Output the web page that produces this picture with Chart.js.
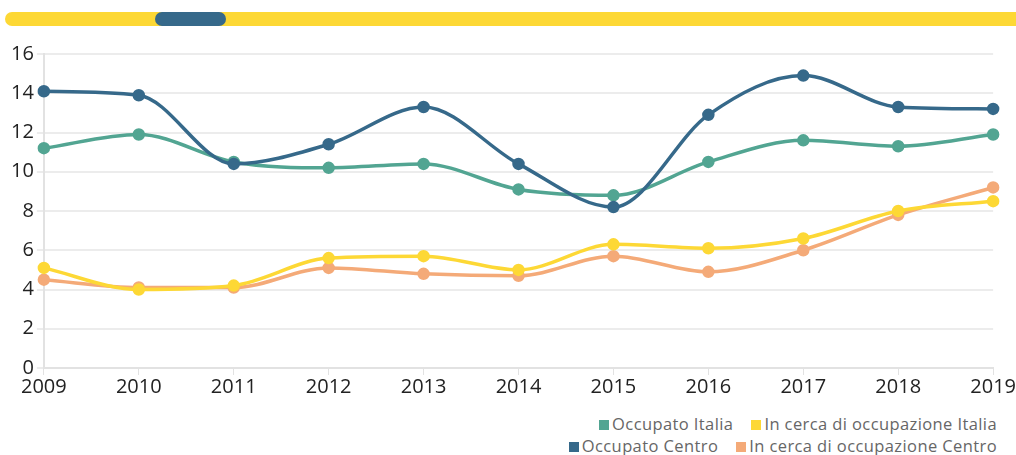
<!DOCTYPE html>
<html>
<head>
<meta charset="utf-8">
<script src="https://cdn.jsdelivr.net/npm/chart.js@4"></script>
<style>
  body { margin: 0; background: #fff; width: 1016px; height: 455px; overflow: hidden; position: relative; font-family: "Open Sans", sans-serif; }
  .track { position: absolute; left: 5px; top: 12px; width: 1020px; height: 14px; background: #fdd835; border-radius: 7px; }
  .thumb { position: absolute; left: 155px; top: 12px; width: 71px; height: 14px; background: #36698a; border-radius: 7px; }
  .wrap { position: absolute; left: 0; top: 36px; width: 1016px; height: 363px; }
  #legend { position: absolute; right: 19px; top: 413px; width: 640px; text-align: right; font-size: 16.5px; letter-spacing: 0.4px; color: #666; line-height: 22px; }
  #legend span.item { margin-left: 18px; white-space: nowrap; }
  #legend i { display: inline-block; width: 10px; height: 10px; margin-right: 3px; vertical-align: 0px; }
</style>
</head>
<body>
<div class="track"></div>
<div class="thumb"></div>
<div class="wrap"><canvas id="lineChart"></canvas></div>
<div id="legend"></div>
<script>
const years = ['2009', '2010', '2011', '2012', '2013', '2014', '2015', '2016', '2017', '2018', '2019'];

const occupatoItalia = [11.2, 11.9, 10.5, 10.2, 10.4, 9.1, 8.8, 10.5, 11.6, 11.3, 11.9];
const cercaItalia    = [5.1, 4.0, 4.2, 5.6, 5.7, 5.0, 6.3, 6.1, 6.6, 8.0, 8.5];
const occupatoCentro = [14.1, 13.9, 10.4, 11.4, 13.3, 10.4, 8.2, 12.9, 14.9, 13.3, 13.2];
const cercaCentro    = [4.5, 4.1, 4.1, 5.1, 4.8, 4.7, 5.7, 4.9, 6.0, 7.8, 9.2];

const GREEN  = '#52a592';
const YELLOW = '#fdd835';
const BLUE   = '#36698a';
const ORANGE = '#f4aa78';
const GRID   = '#ececec';
const TEXT   = '#222';

Chart.defaults.font.family = "'Open Sans', sans-serif";

function series(label, data, color, order) {
    return {
        label: label,
        data: data,
        borderColor: color,
        backgroundColor: color,
        pointBackgroundColor: color,
        pointBorderColor: color,
        borderWidth: 3.5,
        pointRadius: 4.5,
        cubicInterpolationMode: 'monotone',
        order: order
    };
}

const datasets = [
    series('Occupato Italia', occupatoItalia, GREEN, 2),
    series('In cerca di occupazione Italia', cercaItalia, YELLOW, 3),
    series('Occupato Centro', occupatoCentro, BLUE, 1),
    series('In cerca di occupazione Centro', cercaCentro, ORANGE, 4)
];

new Chart(document.getElementById('lineChart'), {
    type: 'line',
    data: { labels: years, datasets: datasets },
    options: {
        responsive: true,
        maintainAspectRatio: false,
        animation: false,
        layout: { padding: { left: 8, right: 0, top: 18, bottom: 0 } },
        plugins: { legend: { display: false }, tooltip: { enabled: false } },
        scales: {
            x: {
                offset: false,
                grid: { display: true, drawOnChartArea: false, color: '#e2e2e2', tickLength: 7 },
                border: { color: '#e2e2e2', width: 2 },
                ticks: { color: TEXT, font: { size: 20 }, padding: 0, maxRotation: 0 }
            },
            y: {
                min: 0, max: 16,
                grid: { color: GRID, lineWidth: 2, tickLength: 7 },
                border: { color: '#e2e2e2', width: 2 },
                ticks: { stepSize: 2, color: TEXT, font: { size: 20 }, padding: 3 }
            }
        }
    }
});

// legend in two right-aligned rows, like the original
const legendRows = [[0, 1], [2, 3]];
const legendEl = document.getElementById('legend');
legendRows.forEach(function (row) {
    const div = document.createElement('div');
    row.forEach(function (i) {
        const item = document.createElement('span');
        item.className = 'item';
        const box = document.createElement('i');
        box.style.background = datasets[i].borderColor;
        item.appendChild(box);
        item.appendChild(document.createTextNode(datasets[i].label));
        div.appendChild(item);
    });
    legendEl.appendChild(div);
});
</script>
</body>
</html>
